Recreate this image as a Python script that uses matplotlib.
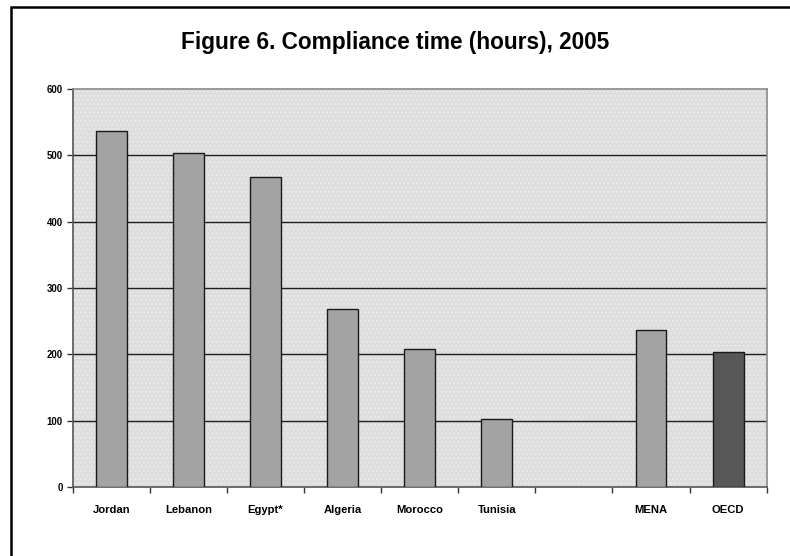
import matplotlib
matplotlib.use("Agg")
import matplotlib.pyplot as plt
from matplotlib.lines import Line2D
from matplotlib.patches import Rectangle
import numpy as np

plt.rcParams['font.family'] = ['Liberation Sans', 'DejaVu Sans']
plt.rcParams['hatch.linewidth'] = 0.6

categories = ["Jordan", "Lebanon", "Egypt*", "Algeria", "Morocco", "Tunisia", "", "MENA", "OECD"]
hours = [536, 504, 468, 268, 208, 102, None, 237, 203]
bar_colors = ["#a3a3a3"] * 8 + ["#575757"]
y_ticks = [0, 100, 200, 300, 400, 500, 600]

fig = plt.figure(figsize=(7.9, 5.56), dpi=100)
ax = fig.add_axes([0.092, 0.1241, 0.8785, 0.7159])

# dotted plot-area fill
ax.set_facecolor("#dedede")
ax.add_patch(Rectangle((0, 0), 1, 1, transform=ax.transAxes, facecolor="none",
                       edgecolor="#eeeeee", hatch="....", linewidth=0, zorder=0))

x = np.arange(len(categories))
for xi, v, c in zip(x, hours, bar_colors):
    if v is None:
        continue
    ax.bar(xi, v, width=0.4, color=c, edgecolor="#1a1a1a", linewidth=1.0, zorder=3)

ax.set_xlim(-0.5, len(categories) - 0.5)
ax.set_ylim(0, 600)
ax.set_yticks(y_ticks)
ax.set_yticklabels([str(t) for t in y_ticks], fontsize=6.9, fontweight="bold")
for t in y_ticks[1:-1]:
    ax.axhline(t, color="#1e1e1e", linewidth=1.0, zorder=1)

ax.set_xticks(x)
ax.set_xticklabels(categories, fontsize=8.1, fontweight="bold")
ax.tick_params(axis="x", which="major", length=0, pad=13)
ax.set_xticks(np.arange(-0.5, len(categories)), minor=True)
ax.tick_params(axis="x", which="minor", length=4, width=1, color="#333333", direction="out")
ax.tick_params(axis="y", length=4, width=1, color="#333333", direction="out", pad=3)

for side in ["top", "right"]:
    ax.spines[side].set_color("#8a8a8a")
    ax.spines[side].set_linewidth(1.2)
for side in ["left", "bottom"]:
    ax.spines[side].set_color("#555555")
    ax.spines[side].set_linewidth(1.2)

fig.text(0.5, 1 - 42 / 556, "Figure 6. Compliance time (hours), 2005",
         ha="center", va="center", fontsize=16.3, fontweight="bold")

# outer frame around the chart area
x0 = 11 / 790
y0 = 1 - 7 / 556
fig.add_artist(Line2D([x0, x0, 1.0], [0.0, y0, y0], transform=fig.transFigure,
                      color="black", linewidth=1.8, solid_joinstyle="miter"))

fig.savefig("out.png", dpi=100)
